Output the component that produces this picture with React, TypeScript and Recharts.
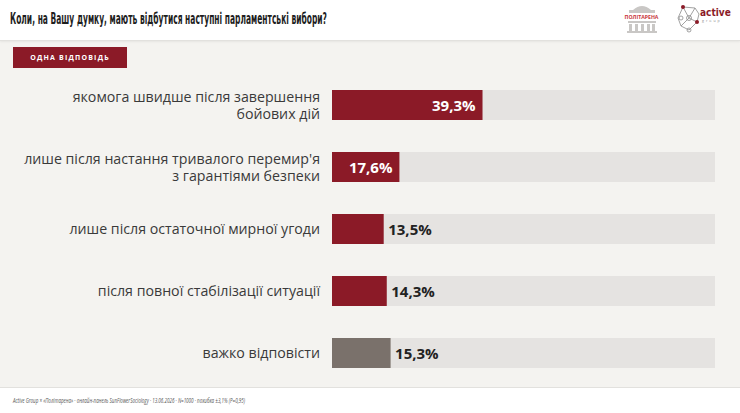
import React from "react";
import { BarChart, Bar, XAxis, YAxis, Cell, LabelList } from "recharts";

const categories = [
  "якомога швидше після завершення\nбойових дій",
  "лише після настання тривалого перемир'я\nз гарантіями безпеки",
  "лише після остаточної мирної угоди",
  "після повної стабілізації ситуації",
  "важко відповісти",
];
const values = [39.3, 17.6, 13.5, 14.3, 15.3];
const barColors = ["#8b1a27", "#8b1a27", "#8b1a27", "#8b1a27", "#7a716b"];

const title = "Коли, на Вашу думку, мають відбутися наступні парламентські вибори?";
const badge = "ОДНА ВІДПОВІДЬ";
const footer =
  "Active Group × «Політарена» · онлайн-панель SunFlowerSociology · 13.06.2026 · N=1000 · похибка ±3,1% (P=0,95)";

const data = categories.map((c, i) => ({ name: c, value: values[i] }));

const FONT = "'Open Sans', 'Noto Sans', sans-serif";
const NARROW = "'Liberation Sans Narrow', 'DejaVu Sans Condensed', 'Open Sans', sans-serif";

const fmt = (v: number) => v.toFixed(1).replace(".", ",") + "%";

const CategoryTick = (props: any) => {
  const { x, y, payload } = props;
  const lines = String(payload.value).split("\n");
  const lh = 17;
  const first = -((lines.length - 1) * lh) / 2 + 5;
  return (
    <text x={x} y={y} textAnchor="end" fill="#3a3a3a" fontSize={14.2} fontFamily={FONT}>
      {lines.map((l, i) => (
        <tspan key={i} x={x} dy={i === 0 ? first : lh}>
          {l}
        </tspan>
      ))}
    </text>
  );
};

const ValueLabel = (props: any) => {
  const { x, y, width, height, value } = props;
  const inside = width > 64;
  const cy = y + height / 2 + 5.5;
  return inside ? (
    <text x={x + width - 7} y={cy} textAnchor="end" fill="#ffffff" fontSize={15} fontWeight={700} fontFamily={FONT}>
      {fmt(value)}
    </text>
  ) : (
    <text x={x + width + 4.5} y={cy} textAnchor="start" fill="#222222" fontSize={15} fontWeight={700} fontFamily={FONT}>
      {fmt(value)}
    </text>
  );
};

const Logos = () => (
  <svg width={120} height={40} style={{ position: "absolute", left: 615, top: 0 }}>
    <g fill="#c9c7c5">
      <path d="M18 10 Q27 2 36 10 Z" />
      <rect x={14} y={10} width={26} height={3} />
      <rect x={13} y={21} width={28} height={2} />
      <rect x={14} y={24} width={3} height={8} />
      <rect x={20} y={24} width={3} height={8} />
      <rect x={26} y={24} width={3} height={8} />
      <rect x={32} y={24} width={3} height={8} />
      <rect x={37} y={24} width={3} height={8} />
      <rect x={12} y={31} width={30} height={2} />
    </g>
    <rect x={6} y={13} width={41} height={7} fill="#ffffff" />
    <text x={26.5} y={18.5} textAnchor="middle" fontSize={5.2} fontWeight={700} fill="#c8363a" fontFamily={FONT}>
      ПОЛІТАРЕНА
    </text>
    <g stroke="#8a8a8a" strokeWidth={0.8} fill="none">
      <polyline points="68,7 80,8 84,14 82,22 74,30 66,26 63,18 68,7" />
      <line x1={68} y1={7} x2={74} y2={18} />
      <line x1={80} y1={8} x2={74} y2={18} />
      <line x1={74} y1={18} x2={82} y2={22} />
      <line x1={74} y1={18} x2={66} y2={26} />
      <circle cx={74} cy={18} r={2.5} />
      <circle cx={66} cy={18} r={2} />
      <circle cx={74} cy={30} r={2} />
    </g>
    <circle cx={68} cy={7} r={2} fill="#8b1a27" />
    <circle cx={82} cy={22} r={2} fill="#8b1a27" />
    <text x={85} y={16} fontSize={10} fontWeight={700} fill="#8b1a27" fontFamily={NARROW}>
      active
    </text>
    <text x={87} y={22} fontSize={3.5} fill="#888" letterSpacing={2} fontFamily={FONT}>
      group
    </text>
  </svg>
);

export default function App() {
  return (
    <div
      style={{
        position: "fixed",
        left: 0,
        top: 0,
        width: 740,
        height: 413,
        background: "#f4f3f0",
        overflow: "hidden",
        fontFamily: FONT,
      }}
    >
      <div
        style={{
          position: "absolute",
          left: 0,
          top: 0,
          width: 740,
          height: 40,
          background: "#ffffff",
          borderBottom: "1px solid #e2e1de",
          boxShadow: "0 1px 2px rgba(0,0,0,0.06)",
        }}
      />
      <svg width={740} height={40} style={{ position: "absolute", left: 0, top: 0 }}>
        <text
          x={10}
          y={24}
          fontSize={15}
          fontWeight={700}
          fill="#1e1e1e"
          fontFamily={NARROW}
          textLength={317}
          lengthAdjust="spacingAndGlyphs"
        >
          {title}
        </text>
      </svg>
      <Logos />
      <div
        style={{
          position: "absolute",
          left: 13,
          top: 47,
          width: 114,
          height: 21,
          background: "#8b1a27",
        }}
      />
      <svg width={740} height={80} style={{ position: "absolute", left: 0, top: 0 }}>
        <text
          x={70}
          y={59.5}
          textAnchor="middle"
          fontSize={7}
          fontWeight={700}
          fill="#ffffff"
          fontFamily={FONT}
          letterSpacing={1.2}
        >
          {badge}
        </text>
      </svg>
      <div style={{ position: "absolute", left: 0, top: 0 }}>
        <BarChart
          width={740}
          height={413}
          data={data}
          layout="vertical"
          margin={{ top: 74, right: 25, bottom: 29, left: 0 }}
        >
          <XAxis type="number" domain={[0, 100]} hide />
          <YAxis
            type="category"
            dataKey="name"
            width={332}
            axisLine={false}
            tickLine={false}
            tickSize={0}
            tickMargin={12}
            tick={<CategoryTick />}
            interval={0}
          />
          <Bar dataKey="value" barSize={30} background={{ fill: "#e5e3e1" }} isAnimationActive={false}>
            {data.map((d, i) => (
              <Cell key={i} fill={barColors[i]} />
            ))}
            <LabelList dataKey="value" content={<ValueLabel />} />
          </Bar>
        </BarChart>
      </div>
      <div
        style={{
          position: "absolute",
          left: 0,
          top: 387,
          width: 740,
          height: 26,
          background: "#ffffff",
          borderTop: "1px solid #e2e1de",
        }}
      />
      <svg width={740} height={26} style={{ position: "absolute", left: 0, top: 387 }}>
        <text
          x={13}
          y={16}
          fontSize={7}
          fontStyle="italic"
          fill="#555555"
          fontFamily={FONT}
          textLength={232}
          lengthAdjust="spacingAndGlyphs"
        >
          {footer}
        </text>
      </svg>
    </div>
  );
}
